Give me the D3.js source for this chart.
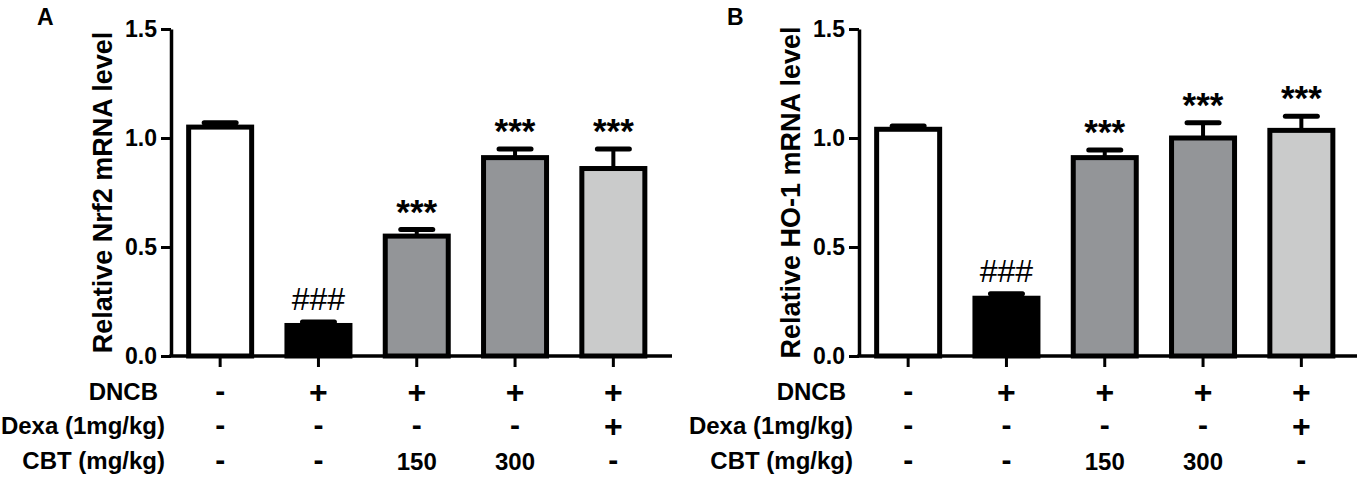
<!DOCTYPE html>
<html>
<head>
<meta charset="utf-8">
<script src="https://cdn.jsdelivr.net/npm/d3@7"></script>
<style>
  html, body { margin: 0; padding: 0; background: #fff; }
  svg { display: block; font-family: "Liberation Sans", Arial, sans-serif; }
</style>
</head>
<body>
<svg id="chart" width="1357" height="478"></svg>
<script>
// ---- data ----
const groups = ["Control", "DNCB", "DNCB+CBT150", "DNCB+CBT300", "DNCB+Dexa"];
const nrf2Mean = [1.05, 0.14, 0.55, 0.91, 0.86];
const nrf2Err  = [0.02, 0.016, 0.03, 0.04, 0.09];
const ho1Mean  = [1.04, 0.265, 0.91, 1.00, 1.035];
const ho1Err   = [0.015, 0.02, 0.035, 0.07, 0.065];
const nrf2Sig  = ["", "###", "***", "***", "***"];
const ho1Sig   = ["", "###", "***", "***", "***"];
const yTicks   = [0, 0.5, 1.0, 1.5];
const rowLabels = ["DNCB", "Dexa (1mg/kg)", "CBT (mg/kg)"];
const dncbRow  = ["-", "+", "+", "+", "+"];
const dexaRow  = ["-", "-", "-", "-", "+"];
const cbtRow   = ["-", "-", "150", "300", "-"];
const panelLetters = ["A", "B"];
const yTitles = ["Relative Nrf2 mRNA level", "Relative HO-1 mRNA level"];

// ---- styles ----
const barColors = ["#ffffff", "#000000", "#939598", "#939598", "#cacbcb"];
const svg = d3.select("#chart");

function drawPanel(offsetX, letter, title, means, errs, sigs) {
  const axisX = offsetX + 171;
  const y0 = 356, yTop = 29;
  const y = d3.scaleLinear().domain([0, 1.5]).range([y0, yTop]);
  const x = d3.scaleBand().domain(groups).range([axisX, axisX + 491.5]).padding(0);
  const bw = 63;
  const g = svg.append("g");
  const cx = d => x(d) + x.bandwidth() / 2;

  // bars
  g.selectAll("rect.bar").data(groups).join("rect")
    .attr("class", "bar")
    .attr("x", d => cx(d) - bw / 2)
    .attr("y", (d, i) => y(means[i]))
    .attr("width", bw)
    .attr("height", (d, i) => y0 - y(means[i]))
    .attr("fill", (d, i) => barColors[i])
    .attr("stroke", "#000")
    .attr("stroke-width", 5);

  // error bars (upper only)
  g.selectAll("line.stem").data(groups).join("line")
    .attr("class", "stem")
    .attr("x1", cx).attr("x2", cx)
    .attr("y1", (d, i) => y(means[i]))
    .attr("y2", (d, i) => y(means[i] + errs[i]))
    .attr("stroke", "#000").attr("stroke-width", 4);
  g.selectAll("line.cap").data(groups).join("line")
    .attr("class", "cap")
    .attr("x1", d => cx(d) - 16).attr("x2", d => cx(d) + 16)
    .attr("y1", (d, i) => y(means[i] + errs[i]))
    .attr("y2", (d, i) => y(means[i] + errs[i]))
    .attr("stroke", "#000").attr("stroke-width", 5).attr("stroke-linecap", "round");

  // significance marks
  g.selectAll("text.sig").data(groups).join("text")
    .attr("class", "sig")
    .attr("x", cx)
    .attr("y", (d, i) => y(means[i] + errs[i]) - (sigs[i] === "###" ? 12 : 6))
    .attr("text-anchor", "middle")
    .attr("font-size", (d, i) => sigs[i] === "###" ? 32 : 35)
    .attr("font-weight", (d, i) => sigs[i] === "###" ? "normal" : "bold")
    .text((d, i) => sigs[i]);

  // y axis
  const yAxis = d3.axisLeft(y).tickValues(yTicks).tickFormat(d3.format(".1f"))
    .tickSize(10).tickSizeOuter(0).tickPadding(4);
  const ya = g.append("g").attr("transform", `translate(${axisX},0)`).call(yAxis);
  ya.select(".domain").attr("stroke-width", 3.5);
  ya.selectAll(".tick line").attr("stroke-width", 3);
  ya.selectAll(".tick text").attr("font-size", 23).attr("font-weight", "bold")
    .attr("font-family", "Liberation Sans, Arial, sans-serif").attr("fill", "#000");

  // x axis ticks
  const xAxis = d3.axisBottom(x).tickSize(11).tickFormat("");
  const xa = g.append("g").attr("transform", `translate(0,${y0})`).call(xAxis);
  xa.select(".domain").remove();
  xa.selectAll(".tick line").attr("stroke-width", 3);
  g.append("line")
    .attr("x1", axisX - 1.75).attr("x2", axisX + 501)
    .attr("y1", y0).attr("y2", y0)
    .attr("stroke", "#000").attr("stroke-width", 3.5);

  // y title
  g.append("text")
    .attr("transform", `translate(${axisX - 59},${(y0 + yTop) / 2}) rotate(-90)`)
    .attr("text-anchor", "middle")
    .attr("font-size", 27).attr("font-weight", "bold")
    .text(title);

  // panel letter
  g.append("text").attr("x", offsetX + (letter === "A" ? 37 : 39)).attr("y", 25)
    .attr("font-size", 23).attr("font-weight", "bold").text(letter);

  // treatment table
  const rows = [dncbRow, dexaRow, cbtRow];
  const baselines = [400, 434, 469];
  rowLabels.forEach((lab, r) => {
    g.append("text")
      .attr("x", offsetX + (r === 0 ? 158 : 165)).attr("y", baselines[r])
      .attr("text-anchor", "end")
      .attr("font-size", 24).attr("font-weight", "bold")
      .text(lab);
    g.selectAll(null).data(groups).join("text")
      .attr("x", cx).attr("y", (d, i) => baselines[r] + (rows[r][i] === "+" ? 3 : 1))
      .attr("text-anchor", "middle")
      .attr("font-size", (d, i) => rows[r][i] === "+" ? 32 : (rows[r][i] === "-" ? 30 : 24))
      .attr("font-weight", "bold")
      .text((d, i) => rows[r][i]);
  });
}

drawPanel(0, panelLetters[0], yTitles[0], nrf2Mean, nrf2Err, nrf2Sig);
drawPanel(688, panelLetters[1], yTitles[1], ho1Mean, ho1Err, ho1Sig);
</script>
</body>
</html>
